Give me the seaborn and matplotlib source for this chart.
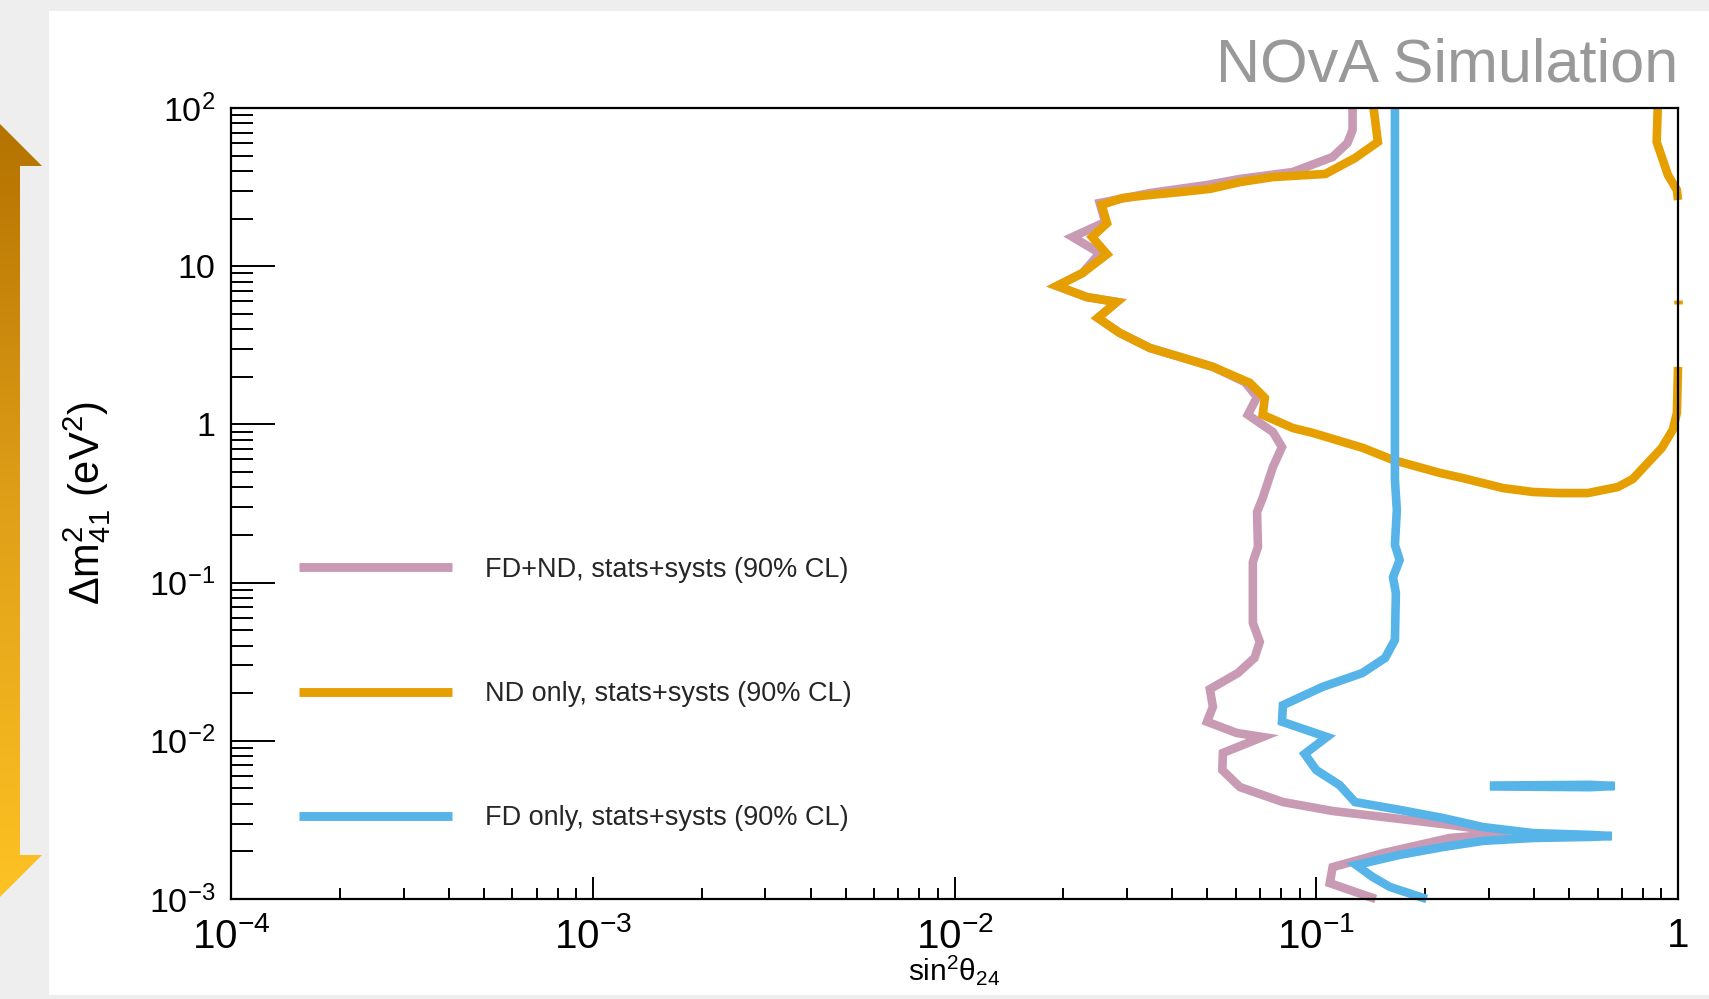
import numpy as np
import pandas as pd
import matplotlib
matplotlib.use('Agg')
import matplotlib.pyplot as plt
import seaborn as sns
from matplotlib import ticker
from matplotlib.patches import Polygon, Rectangle
from matplotlib.lines import Line2D
from matplotlib.colors import LinearSegmentedColormap

# contour values (sin^2 theta_24, dm^2_41 in eV^2)
fdnd_x = [0.126, 0.126, 0.122, 0.111, 0.0861, 0.0615, 0.0499, 0.0347, 0.0252, 0.0261,
          0.0212, 0.0252, 0.0226, 0.0192, 0.0232, 0.0281, 0.0249, 0.0286, 0.0347, 0.0420,
          0.0518, 0.0635, 0.0686, 0.0647, 0.0759, 0.0804, 0.0759, 0.0711, 0.0686, 0.0690,
          0.0668, 0.0668, 0.0698, 0.0675, 0.0607, 0.0508, 0.0518, 0.0499, 0.0603, 0.0711,
          0.0552, 0.0550, 0.0615, 0.0809, 0.111, 0.153, 0.234, 0.343, 0.234, 0.153,
          0.111, 0.109, 0.146]
fdnd_y = [100, 72.6, 60.1, 49.0, 39.4, 35.6, 32.6, 29.0, 25.1, 19.0,
          15.3, 12.1, 9.06, 7.50, 6.38, 5.94, 4.71, 3.79, 3.04, 2.67,
          2.31, 1.85, 1.49, 1.15, 0.895, 0.719, 0.538, 0.343, 0.279, 0.168,
          0.135, 0.0556, 0.0422, 0.0334, 0.0268, 0.0212, 0.0164, 0.0132, 0.0112, 0.01057,
          0.00838, 0.00653, 0.00510, 0.00410, 0.00360, 0.00330, 0.00294, 0.00261, 0.00243, 0.00195,
          0.00159, 0.00126, 0.001]

nd_x = [0.144, 0.146, 0.148, 0.128, 0.106, 0.0759, 0.0615, 0.0508, 0.0420, 0.0347,
        0.0292, 0.0255, 0.0264, 0.0240, 0.0264, 0.0226, 0.0192, 0.0232, 0.0281, 0.0249,
        0.0286, 0.0347, 0.0420, 0.0518, 0.0655, 0.0721, 0.0711, 0.0861, 0.0979, 0.1346,
        0.163, 0.220, 0.254, 0.328, 0.397, 0.471, 0.563, 0.682, 0.750, 0.902,
        0.967, 0.993, 1.0]
nd_y = [100, 78.2, 61.0, 48.3, 38.3, 36.6, 34.0, 30.8, 29.4, 28.2,
        27.0, 24.4, 18.7, 15.3, 11.9, 9.06, 7.50, 6.38, 5.94, 4.71,
        3.79, 3.04, 2.67, 2.31, 1.83, 1.47, 1.15, 0.949, 0.883, 0.710,
        0.596, 0.493, 0.458, 0.396, 0.374, 0.368, 0.368, 0.402, 0.452, 0.710,
        0.923, 1.18, 2.31]
nd_edge_x = [0.879, 0.873, 0.938, 0.993, 1.0]
nd_edge_y = [100, 61.0, 37.7, 30.3, 26.2]
nd_dot_x = [1.0, 1.0]
nd_dot_y = [5.8, 6.1]

fd_x = [0.165, 0.165, 0.167, 0.165, 0.170, 0.163, 0.166, 0.165, 0.155, 0.134,
        0.104, 0.0809, 0.0804, 0.107, 0.0929, 0.100, 0.116, 0.128, 0.170, 0.224,
        0.289, 0.397, 0.578, 0.656, 0.578, 0.397, 0.289, 0.224, 0.170, 0.129,
        0.143, 0.160, 0.202]
fd_y = [100, 0.446, 0.288, 0.173, 0.139, 0.108, 0.0859, 0.0434, 0.0334, 0.0268,
        0.0219, 0.0168, 0.0132, 0.01057, 0.00826, 0.00653, 0.00525, 0.00410, 0.00366, 0.00325,
        0.00285, 0.00261, 0.00254, 0.00250, 0.00247, 0.00243, 0.00233, 0.00213, 0.00190, 0.00164,
        0.00138, 0.00119, 0.001]
fd_isl_x = [0.302, 0.570, 0.668, 0.570, 0.302]
fd_isl_y = [0.00521, 0.00527, 0.00518, 0.00509, 0.00515]

labels = ['FD+ND, stats+systs (90% CL)', 'ND only, stats+systs (90% CL)',
          'FD only, stats+systs (90% CL)']
colors = ['#c99ab3', '#e69f00', '#56b4e9']

segments = {
    'FD+ND': [(fdnd_x, fdnd_y)],
    'ND': [(nd_x, nd_y), (nd_edge_x, nd_edge_y), (nd_dot_x, nd_dot_y)],
    'FD': [(fd_x, fd_y), (fd_isl_x, fd_isl_y)],
}
rows = []
for curve, segs in segments.items():
    for i, (xs, ys) in enumerate(segs):
        for k, (xv, yv) in enumerate(zip(xs, ys)):
            rows.append({'curve': curve, 'seg': i, 'k': k, 'sin2': xv, 'dm2': yv})
df = pd.DataFrame(rows)

sns.set_style('white')
plt.rcParams['font.family'] = ['Liberation Sans', 'DejaVu Sans']
plt.rcParams['mathtext.fontset'] = 'custom'
plt.rcParams['mathtext.rm'] = 'Liberation Sans'
plt.rcParams['mathtext.it'] = 'Liberation Sans:italic'
plt.rcParams['mathtext.bf'] = 'Liberation Sans:bold'

W, H = 1709, 999
fig = plt.figure(figsize=(W / 100, H / 100), dpi=100)
fig.patch.set_facecolor('#eeeeee')

# slide background: white panel + gradient double arrow on the left
bg = fig.add_axes([0, 0, 1, 1], zorder=-1)
bg.axis('off')
bg.add_patch(Rectangle((49, 11), W - 49, 984, facecolor='white', edgecolor='none'))
arrow_pts = [(0, 124), (42, 166), (20, 166), (20, 855), (42, 855), (0, 897),
             (-42, 855), (-20, 855), (-20, 166), (-42, 166)]
poly = Polygon(arrow_pts, closed=True, facecolor='none', edgecolor='none')
bg.add_patch(poly)
cmap = LinearSegmentedColormap.from_list('arr', ['#b47200', '#e0a018', '#fdc223'])
im = bg.imshow(np.linspace(0, 1, 256).reshape(-1, 1), extent=(-50, 50, 897, 124),
               cmap=cmap, aspect='auto')
im.set_clip_path(poly)
bg.set_xlim(0, W)
bg.set_ylim(H, 0)

ax = fig.add_axes([231 / W, 1 - 899 / H, 1447 / W, 791 / H])
ax.set_xscale('log')
ax.set_yscale('log')

for curve, col in zip(['FD+ND', 'ND', 'FD'], colors):
    sns.lineplot(data=df[df.curve == curve], x='sin2', y='dm2', units='seg',
                 estimator=None, sort=False, color=col, lw=6.2, ax=ax, legend=False,
                 clip_on=False, solid_capstyle='butt', solid_joinstyle='miter')

ax.set_xlim(1e-4, 1)
ax.set_ylim(1e-3, 1e2)


def dec_fmt(v, pos):
    e = int(round(np.log10(v)))
    if e == 0:
        return '1'
    if e == 1:
        return '10'
    return '$10^{%d}$' % e


for axis in (ax.xaxis, ax.yaxis):
    axis.set_major_locator(ticker.LogLocator(base=10, numticks=100))
    axis.set_minor_locator(ticker.LogLocator(base=10, subs=np.arange(2, 10), numticks=100))
    axis.set_major_formatter(ticker.FuncFormatter(dec_fmt))
    axis.set_minor_formatter(ticker.NullFormatter())

ax.tick_params(axis='x', which='major', direction='in', length=15.8, width=1.4,
               bottom=True, top=False, labelsize=29, pad=13, colors='black')
ax.tick_params(axis='x', which='minor', direction='in', length=7.9, width=1.4,
               bottom=True, top=False, colors='black')
ax.tick_params(axis='y', which='major', direction='in', length=31.7, width=1.4,
               left=True, right=False, labelsize=24.5, pad=11.5, colors='black')
ax.tick_params(axis='y', which='minor', direction='in', length=15.8, width=1.4,
               left=True, right=False, colors='black')
for sp in ax.spines.values():
    sp.set_color('black')
    sp.set_linewidth(1.6)

ax.set_xlabel('$\\mathrm{sin^{2}θ_{24}}$', fontsize=21.5, color='black')
ax.xaxis.label.set_va('center')
ax.xaxis.set_label_coords(0.5, -(970 - 899) / 791)
ax.set_ylabel('$\\mathrm{Δm^{2}_{41}}$ (eV$^{2}$)', fontsize=30, color='black')
ax.yaxis.label.set_va('center')
ax.yaxis.set_label_coords(-(231 - 87) / 1447, 0.5)

handles = [Line2D([], [], color=c, lw=6.4, solid_capstyle='butt') for c in colors]
ax.legend(handles, labels, loc='center left', bbox_to_anchor=(299 / W, 1 - 694 / H),
          bbox_transform=fig.transFigure, frameon=False, fontsize=19.5,
          handlelength=5.65, handletextpad=1.2, labelspacing=3.62,
          borderpad=0, borderaxespad=0)

fig.text(1678 / W, 1 - 81 / H, 'NOvA Simulation', ha='right', va='baseline',
         fontsize=44, color='#999999')

fig.savefig('out.png', dpi=100, facecolor=fig.get_facecolor())
